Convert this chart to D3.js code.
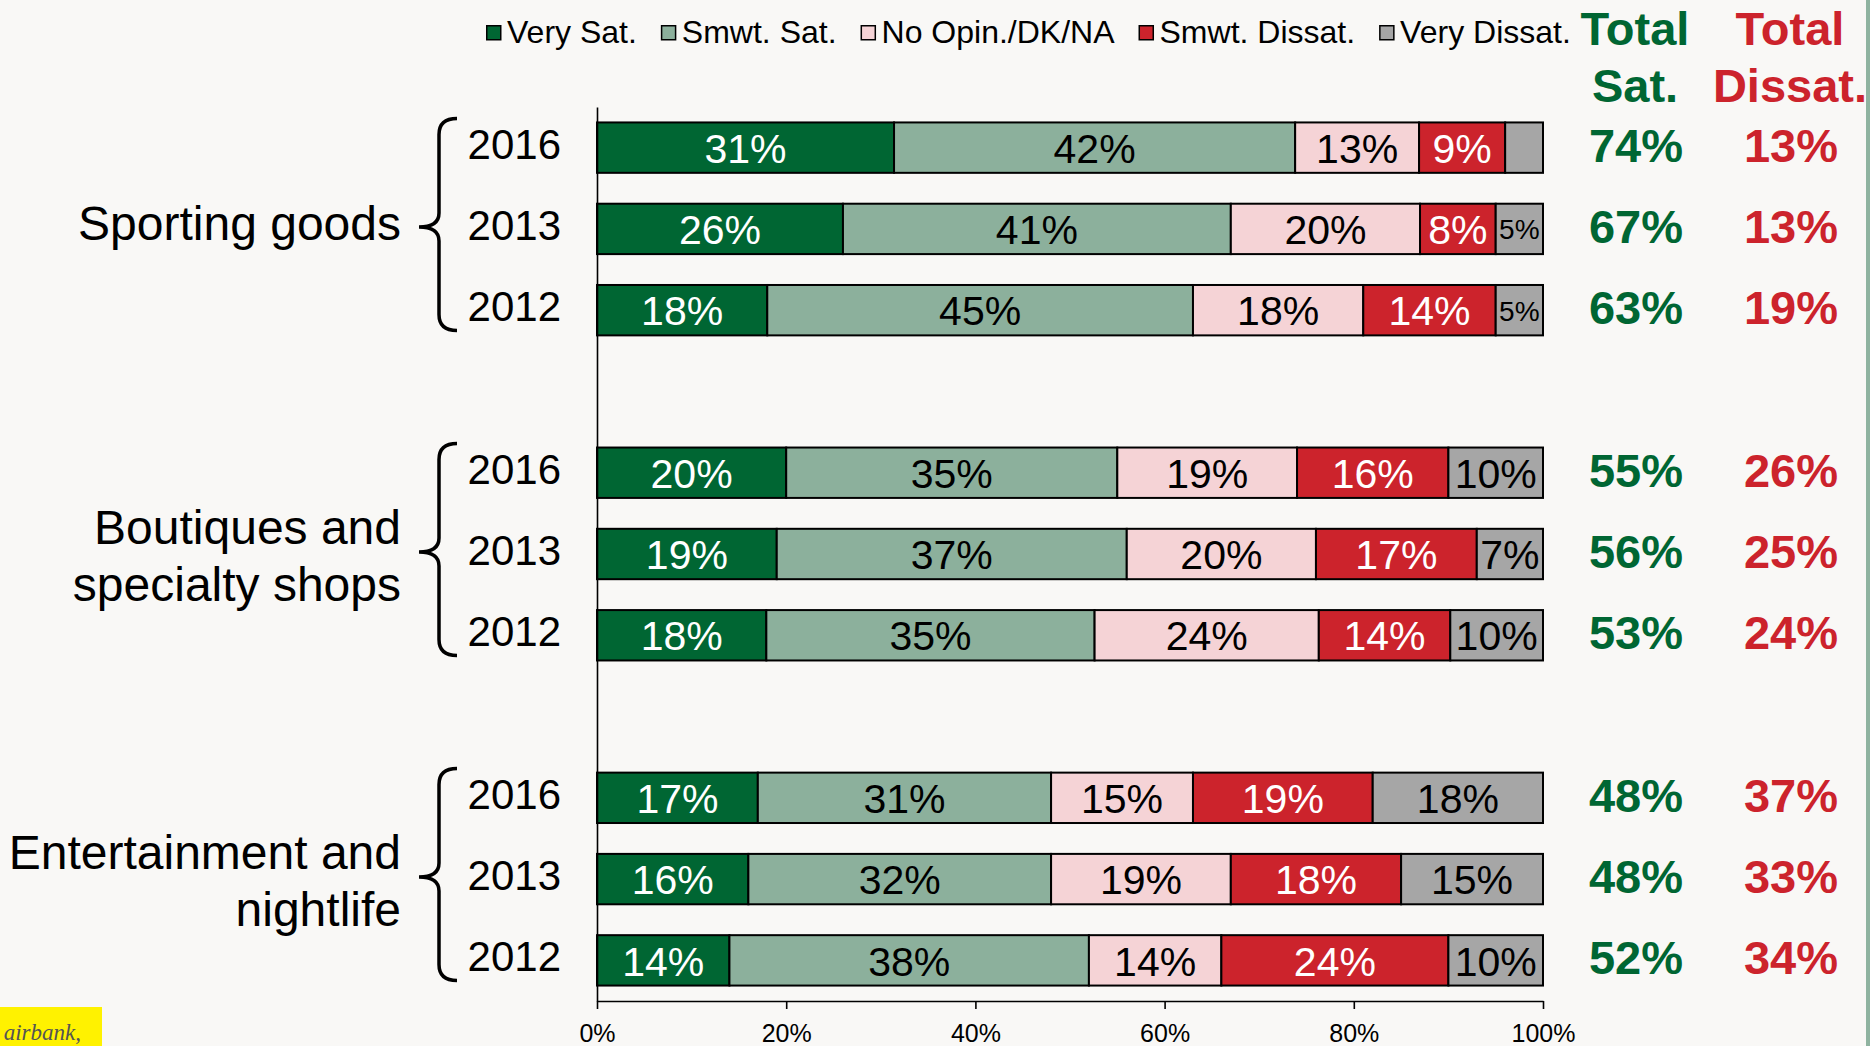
<!DOCTYPE html>
<html>
<head>
<meta charset="utf-8">
<script src="https://cdn.jsdelivr.net/npm/d3@7"></script>
<style>
  html, body { margin: 0; padding: 0; background: #f9f8f6; }
  svg { display: block; font-family: "Liberation Sans", Arial, sans-serif; }
</style>
</head>
<body>
<svg id="chart" width="1870" height="1046"></svg>
<script>
// satisfacao por tipo de comercio, barras 100% empilhadas

const groupLabels = [['Sporting goods'], ['Boutiques and', 'specialty shops'], ['Entertainment and', 'nightlife']];
const years = ['2016', '2013', '2012'];
const seriesNames = ['Very Sat.', 'Smwt. Sat.', 'No Opin./DK/NA', 'Smwt. Dissat.', 'Very Dissat.'];

// uma entrada por linha: grupo x ano (2016, 2013, 2012)
const verySat    = [31.4, 26, 18, 20, 19, 17.9, 17, 16, 14];
const smwtSat    = [42.4, 41, 45, 35, 37, 34.7, 31, 32, 38];
const noOpinion  = [13.1, 20, 18, 19, 20, 23.7, 15, 19, 14];
const smwtDissat = [9.1, 8, 14, 16, 17, 13.9, 19, 18, 24];
const veryDissat = [4.0, 5, 5, 10, 7, 9.8, 18, 15, 10];

const totalSat    = [74, 67, 63, 55, 56, 53, 48, 48, 52];
const totalDissat = [13, 13, 19, 26, 25, 24, 37, 33, 34];

const xTicks = [0, 20, 40, 60, 80, 100];

const colors = ['#006633', '#8cb09c', '#f5d3d6', '#cc232c', '#a6a6a6'];
const labelColors = ['#ffffff', '#000000', '#000000', '#ffffff', '#000000'];
const GREEN = '#006633', RED = '#cc232c';
const FONT_BAR = 41;

const svg = d3.select('#chart');

// ------------------------------------------------------------ dados / escalas
const keys = ['vs', 'ss', 'no', 'sd', 'vd'];
const rows = [];
groupLabels.forEach((g, gi) => {
  years.forEach((yr, yi) => {
    const i = gi * years.length + yi;
    rows.push({
      slot: `g${gi}-${yr}`, group: gi, year: yr,
      vs: verySat[i], ss: smwtSat[i], no: noOpinion[i], sd: smwtDissat[i], vd: veryDissat[i],
      tsat: totalSat[i], tdis: totalDissat[i],
    });
  });
});

// espaco vazio entre os grupos = uma faixa sem barra
const slots = [];
groupLabels.forEach((g, gi) => {
  years.forEach((yr) => slots.push(`g${gi}-${yr}`));
  if (gi < groupLabels.length - 1) slots.push(`gap${gi}`);
});

const x = d3.scaleLinear().domain([0, 100]).range([597, 1543]);
const y = d3.scaleBand().domain(slots).range([107, 1001]).paddingInner(0.38).paddingOuter(0.19);

const stacked = d3.stack().keys(keys)(rows);

// ------------------------------------------------------------ barras
const layer = svg.append('g').selectAll('g')
  .data(stacked)
  .join('g');

layer.selectAll('rect')
  .data((s, si) => s.map((d) => ({ d, si })))
  .join('rect')
  .attr('x', (o) => x(o.d[0]))
  .attr('y', (o) => y(o.d.data.slot))
  .attr('width', (o) => x(o.d[1]) - x(o.d[0]))
  .attr('height', y.bandwidth())
  .attr('fill', (o) => colors[o.si])
  .attr('stroke', '#000')
  .attr('stroke-width', 2);

layer.selectAll('text')
  .data((s, si) => s.map((d) => ({ d, si, v: d[1] - d[0] })).filter((o) => o.v >= 4.5))
  .join('text')
  .attr('x', (o) => (x(o.d[0]) + x(o.d[1])) / 2)
  .attr('y', (o) => y(o.d.data.slot) + y.bandwidth() / 2)
  .attr('dy', '0.37em')
  .attr('text-anchor', 'middle')
  .attr('font-size', (o) => (o.v < 5.5 ? 28 : FONT_BAR))
  .attr('fill', (o) => labelColors[o.si])
  .text((o) => `${Math.round(o.v)}%`);

// ------------------------------------------------------------ eixos
const xAxis = svg.append('g')
  .attr('transform', 'translate(0,1001)')
  .call(d3.axisBottom(x).tickValues(xTicks).tickFormat((d) => `${d}%`).tickSize(8).tickSizeOuter(0).tickPadding(15));
xAxis.select('.domain').attr('stroke', '#000').attr('stroke-width', 1.6);
xAxis.selectAll('.tick line').attr('stroke', '#000').attr('stroke-width', 1.6);
xAxis.selectAll('.tick text')
  .attr('font-size', 25).attr('fill', '#000')
  .attr('font-family', '"Liberation Sans", Arial, sans-serif');

const yAxis = svg.append('g')
  .attr('transform', `translate(${x(0)},0)`)
  .call(d3.axisLeft(y).tickValues([]).tickSizeOuter(0));
yAxis.select('.domain').attr('stroke', '#000').attr('stroke-width', 1.6);

// ------------------------------------------------------------ anos + chaves + grupos
svg.append('g').selectAll('text')
  .data(rows)
  .join('text')
  .attr('x', 561)
  .attr('y', (d) => y(d.slot) + y.bandwidth() / 2 + 11)
  .attr('text-anchor', 'end')
  .attr('font-size', 42)
  .attr('fill', '#000')
  .text((d) => d.year);

groupLabels.forEach((lines, gi) => {
  const first = y(`g${gi}-${years[0]}`);
  const last = y(`g${gi}-${years[years.length - 1]}`) + y.bandwidth();
  const top = first - 4, bot = last - 5;
  const mid = y(`g${gi}-${years[1]}`) + y.bandwidth() / 2 - 2;
  const bx = 439, hx = 457, tx = 419;
  svg.append('path')
    .attr('d', `M${hx},${top} Q${bx},${top} ${bx},${top + 16} L${bx},${mid - 14} Q${bx},${mid} ${tx},${mid}`
      + ` Q${bx},${mid} ${bx},${mid + 14} L${bx},${bot - 16} Q${bx},${bot} ${hx},${bot}`)
    .attr('fill', 'none')
    .attr('stroke', '#000')
    .attr('stroke-width', 3.5);

  const center = mid + 2;
  const base = lines.length === 1 ? [center + 11] : [center - 10, center + 47];
  svg.append('text')
    .attr('text-anchor', 'end')
    .attr('font-size', 48)
    .attr('fill', '#000')
    .selectAll('tspan')
    .data(lines)
    .join('tspan')
    .attr('x', 401)
    .attr('y', (d, i) => base[i])
    .text((d) => d);
});

// ------------------------------------------------------------ totais
const totalCols = [
  { key: 'tsat', cx: 1636, color: GREEN, head: ['Total', 'Sat.'] },
  { key: 'tdis', cx: 1791, color: RED, head: ['Total', 'Dissat.'] },
];
totalCols.forEach((c) => {
  svg.append('g').selectAll('text')
    .data(rows)
    .join('text')
    .attr('x', c.cx)
    .attr('y', (d) => y(d.slot) + y.bandwidth() / 2)
    .attr('dy', '0.3em')
    .attr('text-anchor', 'middle')
    .attr('font-size', 47)
    .attr('font-weight', 'bold')
    .attr('fill', c.color)
    .text((d) => `${d[c.key]}%`);

  svg.append('g').selectAll('text')
    .data(c.head)
    .join('text')
    .attr('x', c.cx - 1)
    .attr('y', (d, i) => 45 + i * 57)
    .attr('text-anchor', 'middle')
    .attr('font-size', 47)
    .attr('font-weight', 'bold')
    .attr('fill', c.color)
    .text((d) => d);
});

// ------------------------------------------------------------ legenda
let lx = 486;
seriesNames.forEach((name, i) => {
  const g = svg.append('g');
  g.append('rect')
    .attr('x', lx + 0.75).attr('y', 25.75)
    .attr('width', 14).attr('height', 14)
    .attr('fill', colors[i]).attr('stroke', '#000').attr('stroke-width', 1.5);
  const t = g.append('text')
    .attr('x', lx + 21).attr('y', 43)
    .attr('font-size', 32)
    .attr('fill', '#000')
    .text(name);
  lx += 21 + t.node().getComputedTextLength() + 24;
});

// ------------------------------------------------------------ adornos do slide
svg.append('rect').attr('x', 1866).attr('y', 0).attr('width', 4).attr('height', 1046).attr('fill', '#8fb3a0');
svg.append('rect').attr('x', 0).attr('y', 1007).attr('width', 102).attr('height', 39).attr('fill', '#fff200');
svg.append('text')
  .attr('x', 81).attr('y', 1040)
  .attr('text-anchor', 'end')
  .attr('font-family', '"Liberation Serif", "DejaVu Serif", serif')
  .attr('font-style', 'italic')
  .attr('font-size', 23)
  .attr('fill', '#555')
  .text('airbank,');
</script>
</body>
</html>
